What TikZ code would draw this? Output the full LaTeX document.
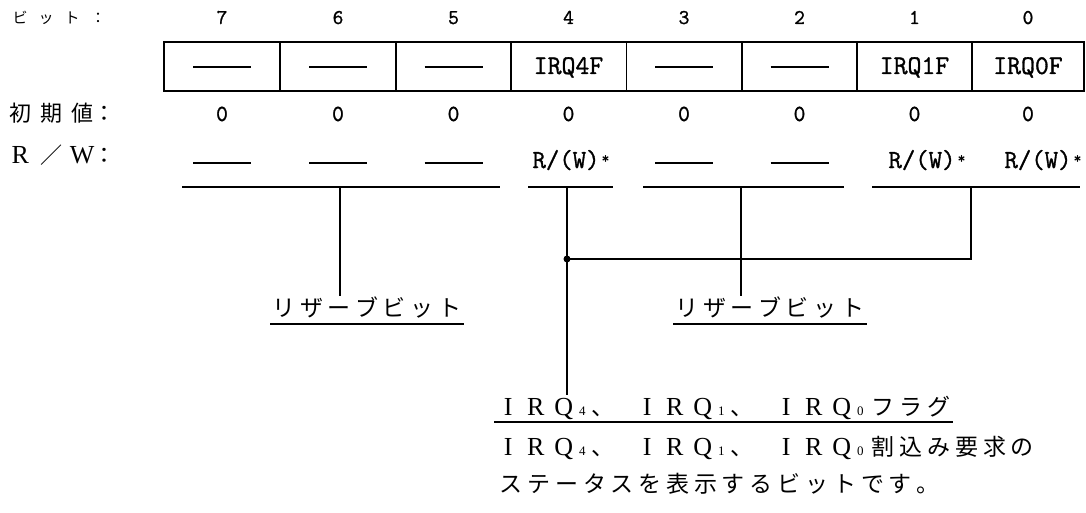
\documentclass[tikz,border=0pt]{standalone}
\usepackage{fontspec}
\usepackage{graphicx}
\setmainfont{Liberation Serif}
\newfontfamily\jp{Noto Sans CJK JP}
\newfontfamily\monob[FakeBold=1.2]{Latin Modern Mono}
\makeatletter
\newdimen\jcellw
\def\jcellrun#1{\jcell@#1\@nil}
\def\jcell@#1{\ifx#1\@nil\else\makebox[\jcellw]{#1}\expandafter\jcell@\fi}
\makeatother
\newcommand\fwL[1]{\makebox[\jcellw]{\rmfamily\fontsize{26}{26}\selectfont #1}}
\newcommand\subd[1]{\makebox[0.5\jcellw][l]{\hspace{1.5pt}\rmfamily\fontsize{13}{13}\selectfont #1}}
\newcommand\irqg[1]{\fwL{I}\fwL{R}\fwL{Q}\subd{#1}}
\newcommand\tou{\makebox[1.5\jcellw][l]{、}}
\newcommand\rwstar{R/(W)\makebox[12pt]{\raisebox{5pt}{\fontsize{15}{15}\selectfont *}}}
\tikzset{
  regbox/.style={line width=2pt},
  divline/.style={line width=1.4pt},
  ln/.style={line width=1.4pt},
  bitnum/.style={anchor=base, inner sep=0pt, font=\monob\fontsize{21}{21}\selectfont},
  initval/.style={anchor=base, inner sep=0pt, font=\monob\fontsize{23}{23}\selectfont},
  celltxt/.style={anchor=base, inner sep=0pt, font=\monob\fontsize{27}{27}\selectfont},
  rwtxt/.style={anchor=base, inner sep=0pt, font=\monob\fontsize{26}{26}\selectfont},
  jlabel/.style={anchor=base west, inner sep=0pt, font=\jp\fontsize{22}{22}\selectfont},
  jtext/.style={anchor=base west, inner sep=0pt, font=\jp\fontsize{23}{23}\selectfont},
}
\begin{document}
\begin{tikzpicture}[x=1pt,y=-1pt]
\fill[white] (0,0) rectangle (1086,513);
\useasboundingbox (0,0) rectangle (1086,513);
% row labels
\node[jlabel, font=\jp\fontsize{15}{15}\selectfont] (lbit) at (7,24) {\jcellw=26pt\jcellrun{ビット：}};
\node[jlabel] (linit) at (4.5,122) {\jcellw=31pt\jcellrun{初期値}\makebox[14pt]{：}};
\node[jlabel] (lrw) at (4.5,164) {\makebox[31pt]{\rmfamily\fontsize{26}{26}\selectfont R}\makebox[31pt]{／}\makebox[31pt]{\rmfamily\fontsize{26}{26}\selectfont W}\makebox[14pt]{：}};
% register box
\draw[regbox] (164,42) rectangle (1084,91);
\foreach \x in {280,396,511,626.5,742,857,972}
  \draw[divline] (\x,42) -- (\x,91);
% bit numbers and initial values
\foreach \c/\b in {222/7,338/6,453.5/5,568.5/4,684/3,799.5/2,914.5/1,1028/0}{
  \node[bitnum] (b\b) at (\c,24) {\b};
  \node[initval] (i\b) at (\c,121) {0};
}
% cell contents
\foreach \c in {222,338,453.5,684,799.5}
  \draw[ln] (\c-29,67) -- (\c+29,67);
\node[celltxt] (c4) at (568.5,74) {IRQ4F};
\node[celltxt] (c1) at (914.5,74) {IRQ1F};
\node[celltxt] (c0) at (1028,74) {IRQ0F};
% R/W row
\foreach \c in {222,338,453.5,684,799.5}
  \draw[ln] (\c-29,163) -- (\c+29,163);
\node[rwtxt] (rw4) at (572,168) {\rwstar};
\node[rwtxt] (rw1) at (928,168) {\rwstar};
\node[rwtxt] (rw0) at (1044,168) {\rwstar};
% underline groups
\coordinate (gA1) at (182,187); \coordinate (gA2) at (500,187);
\coordinate (gB1) at (528,187); \coordinate (gB2) at (613,187);
\coordinate (gC1) at (643,187); \coordinate (gC2) at (844,187);
\coordinate (gD1) at (872,187); \coordinate (gD2) at (1080,187);
\draw[ln] (gA1) -- (gA2);
\draw[ln] (gB1) -- (gB2);
\draw[ln] (gC1) -- (gC2);
\draw[ln] (gD1) -- (gD2);
\coordinate (tA) at (340,187);
\coordinate (tB) at (567,187);
\coordinate (tC) at (741,187);
\coordinate (tD) at (971,187);
% descriptions
\node[jtext] (rsv1) at (270,316) {\jcellw=27.6pt\jcellrun{リザーブビット}};
\node[jtext] (rsv2) at (673,316) {\jcellw=27.6pt\jcellrun{リザーブビット}};
\draw[ln] ([yshift=-8pt]rsv1.base west) -- ([yshift=-8pt]rsv1.base east);
\draw[ln] ([yshift=-8pt]rsv2.base west) -- ([yshift=-8pt]rsv2.base east);
\node[jtext] (f1) at (494,415) {\jcellw=27.8pt\irqg{4}\tou\irqg{1}\tou\irqg{0}\jcellrun{フラグ}};
\node[jtext] (f2) at (494,455) {\jcellw=27.8pt\irqg{4}\tou\irqg{1}\tou\irqg{0}\jcellrun{割込み要求の}};
\node[jtext] (f3) at (497,492) {\jcellw=27.8pt\jcellrun{ステータスを表示するビットです。}};
\draw[ln] ([yshift=-7pt]f1.base west) -- ([yshift=-7pt]f1.base east);
% connectors
\coordinate (j) at (567,259);
\coordinate (jD) at (971,259);
\draw[ln] (tA) -- (tA |- rsv1.north);
\draw[ln] (tC) -- (tC |- rsv2.north);
\draw[ln] (tB) -- (tB |- f1.north);
\draw[ln] (tD) -- (jD) -- (j);
\fill (j) circle (3.5pt);
\end{tikzpicture}
\end{document}
